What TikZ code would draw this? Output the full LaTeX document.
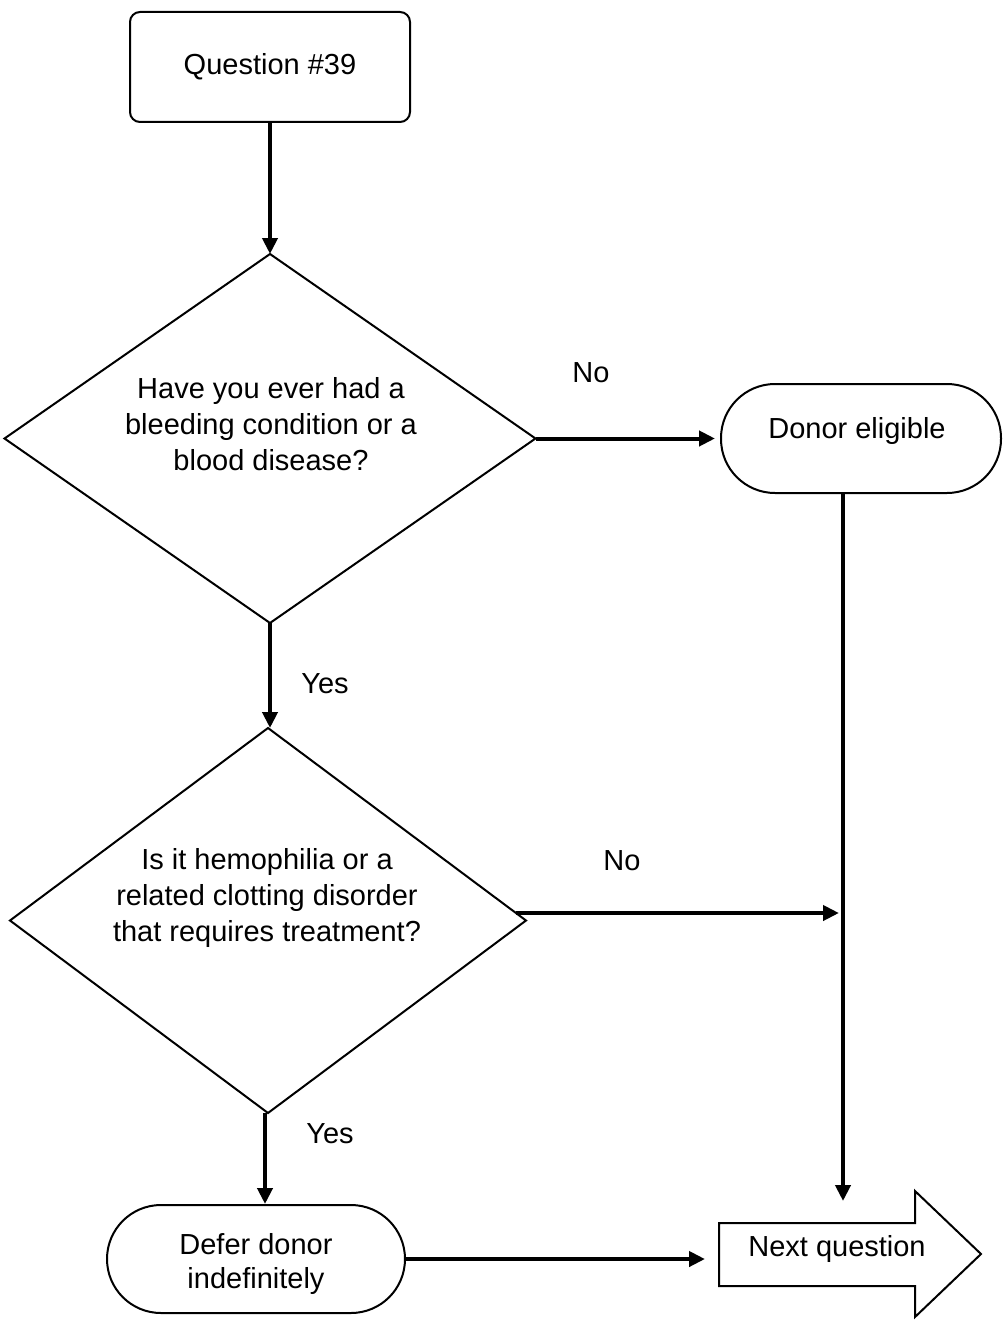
\documentclass[tikz,border=0pt]{standalone}
\usepackage{fontspec}
\setmainfont{Liberation Sans}
\usetikzlibrary{shapes.geometric,arrows.meta,calc}
\begin{document}
\begin{tikzpicture}[x=0.5pt,y=-0.5pt,
  every node/.style={font=\fontsize{14.5}{18}\selectfont, align=center},
  shapeline/.style={draw, line width=1pt},
  conn/.style={line width=2pt, -{Triangle[length=8pt,width=7.5pt]}},
  rbox/.style={shapeline, rectangle, rounded corners=5pt, minimum width=140pt, minimum height=55pt, inner sep=0},
  stadium/.style={shapeline, rectangle, rounded corners=27pt, minimum width=140pt, minimum height=54.5pt, inner sep=0},
  dia/.style={shapeline, diamond, inner sep=0, outer sep=0}]
\useasboundingbox (0,0) rectangle (1005,1322);
\node[rbox] (q) at (270,67) {Question \#39};
\node[dia, minimum width=265.5pt, minimum height=184.5pt] (d1) at (270,438.5) {};
\node (d1t) at (271,424) {Have you ever had a\\bleeding condition or a\\blood disease?};
\node[stadium] (de) at (861,438.5) {};
\node (det) at (857,431) {Donor eligible};
\node[dia, minimum width=258pt, minimum height=192.5pt] (d2) at (268,920.5) {};
\node (d2t) at (267,898) {Is it hemophilia or a\\related clotting disorder\\that requires treatment?};
\node[stadium, minimum width=149pt, minimum height=54pt] (dd) at (256,1259) {};
\node[font=\fontsize{14.5}{17}\selectfont] (ddt) at (256,1264) {Defer donor\\indefinitely};
\draw[shapeline] (719,1223) -- (915,1223) -- (915,1191) -- (981,1254) -- (915,1317) -- (915,1286) -- (719,1286) -- cycle;
\node (nq) at (837,1249) {Next question};
\coordinate (nqw) at (705,1259);
\coordinate (nqt) at (843,1201);
\coordinate (j) at (839,913);
\coordinate (d2r) at ($(d2.east)+(-10,-7.5)$);
\coordinate (d2s) at ($(d2.south)+(-3,0)$);
\coordinate (des) at ($(de.south)+(-18,0)$);
\node at (591,373) {No};
\node at (325,684) {Yes};
\node at (622,861) {No};
\node at (330,1134) {Yes};
\draw[conn] (q.south) -- (q.south |- d1.north);
\draw[conn] (d1.east) -- ([xshift=-2.5pt]de.west);
\draw[conn] (des) -- (des |- nqt);
\draw[conn] (d1.south) -- (d1.south |- d2.north);
\draw[conn] (d2r) -- (d2r -| j);
\draw[conn] (d2s) -- (d2s |- dd.north);
\draw[conn] (dd.east) -- (dd.east -| nqw);
\end{tikzpicture}
\end{document}
